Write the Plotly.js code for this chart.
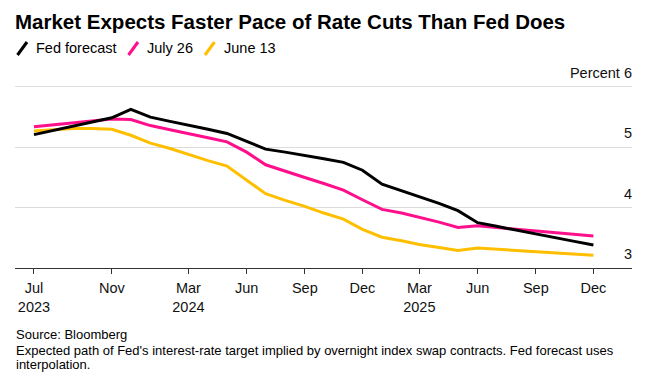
<!DOCTYPE html>
<html>
<head>
<meta charset="utf-8">
<script src="https://cdn.plot.ly/plotly-3.0.1.min.js"></script>
<style>
html,body{margin:0;padding:0;background:#fff;}
#chart{width:652px;height:378px;}
</style>
</head>
<body>
<div id="chart"></div>
<script>
// Monthly points (1st of month), Jul 2023 – Dec 2025
const months = [
  '2023-07-01','2023-08-01','2023-09-01','2023-10-01','2023-11-01','2023-12-01',
  '2024-01-01','2024-02-01','2024-03-01','2024-04-01','2024-05-01','2024-06-01',
  '2024-07-01','2024-08-01','2024-09-01','2024-10-01','2024-11-01','2024-12-01',
  '2025-01-01','2025-02-01','2025-03-01','2025-04-01','2025-05-01','2025-06-01',
  '2025-07-01','2025-08-01','2025-09-01','2025-10-01','2025-11-01','2025-12-01'
];
const fedForecast = [5.21,5.28,5.35,5.42,5.49,5.63,5.50,5.43,5.37,5.30,5.23,5.10,
  4.97,4.92,4.87,4.81,4.75,4.62,4.39,4.28,4.18,4.07,3.95,3.75,
  3.69,3.63,3.57,3.50,3.44,3.38];
const july26 = [5.34,5.37,5.40,5.44,5.47,5.46,5.36,5.29,5.23,5.16,5.09,4.92,
  4.71,4.61,4.50,4.40,4.29,4.13,3.97,3.91,3.84,3.76,3.67,3.70,
  3.67,3.64,3.61,3.58,3.56,3.53];
const june13 = [5.27,5.29,5.31,5.31,5.30,5.20,5.07,4.98,4.88,4.78,4.69,4.46,
  4.23,4.12,4.02,3.91,3.81,3.64,3.51,3.45,3.39,3.34,3.29,3.33,
  3.31,3.29,3.27,3.25,3.23,3.21];

const seriesNames = ['Fed forecast','July 26','June 13'];
const seriesColors = ['#000000','#ff0f8c','#ffbf00'];

const xTickVals = ['2023-07-01','2023-11-01','2024-03-01','2024-06-01','2024-09-01',
  '2024-12-01','2025-03-01','2025-06-01','2025-09-01','2025-12-01'];
const xTickText = ['Jul<br>2023','Nov','Mar<br>2024','Jun','Sep','Dec','Mar<br>2025','Jun','Sep','Dec'];
const yTickVals = [3,4,5,6];
const yTickText = ['3','4','5','Percent 6'];

const FONT = 'Liberation Sans, Arial, Helvetica, sans-serif';

const seriesData = [fedForecast, july26, june13];
const order = [2,1,0];
const traces = order.map(i => ({
  type:'scatter', mode:'lines', x: months, y: seriesData[i], name: seriesNames[i],
  line:{color: seriesColors[i], width:3}, hoverinfo:'skip', showlegend:false
}));

const L = 15, R = 20, T = 85, B = 110, W = 652, H = 378;
const pw = W - L - R, ph = H - T - B;
const px = x => (x - L) / pw;
const py = y => (H - B - y) / ph;

const legendX = [17.5, 128.5, 205];
const legendTextX = [34, 145, 221.5];
const shapes = legendX.map((x0,i) => ({
  type:'line', xref:'paper', yref:'paper',
  x0: px(x0), y0: py(55), x1: px(x0+9.5), y1: py(42),
  line:{color: seriesColors[i], width:3}
}));

const annotations = seriesNames.map((n,i) => ({
  xref:'paper', yref:'paper', x: px(legendTextX[i]), y: py(48.5),
  xanchor:'left', yanchor:'middle', showarrow:false, text:n,
  font:{family:FONT, size:14.5, color:'#000'}
}));
const footer = [
  ['Source: Bloomberg', 334.5],
  ["Expected path of Fed's interest-rate target implied by overnight index swap contracts. Fed forecast uses", 350],
  ['interpolation.', 364.5]
];
footer.forEach(([t,y]) => annotations.push({
  xref:'paper', yref:'paper', x: px(14), y: py(y), xanchor:'left', yanchor:'middle',
  showarrow:false, text:t, font:{family:FONT, size:13, color:'#000'}
}));

const layout = {
  width:W, height:H,
  margin:{l:L, r:R, t:T, b:B},
  paper_bgcolor:'#fff', plot_bgcolor:'#fff',
  title:{text:'<b>Market Expects Faster Pace of Rate Cuts Than Fed Does</b>',
    xref:'container', yref:'container', x:15/W, xanchor:'left', y:1-22/H, yanchor:'middle',
    font:{family:FONT, size:20.5, color:'#000'}},
  showlegend:false,
  xaxis:{type:'date', range:['2023-06-01','2026-01-31'], tickvals:xTickVals, ticktext:xTickText,
    showgrid:false, zeroline:false, showline:true, linecolor:'#333', linewidth:1,
    ticks:'outside', ticklen:5, tickcolor:'#333', tickwidth:1, ticklabelstandoff:2,
    tickfont:{family:FONT, size:14.5, color:'#111'}, fixedrange:true},
  yaxis:{range:[2.999,6.033], tickvals:yTickVals, ticktext:yTickText, side:'right',
    ticklabelposition:'inside', ticklabeloverflow:'allow', ticks:'', showline:false, zeroline:false,
    showgrid:true, gridcolor:'#dcdcdc', gridwidth:1, ticklabelshift:-14, ticklabelstandoff:-3,
    tickfont:{family:FONT, size:14.5, color:'#111'}, fixedrange:true},
  shapes:shapes,
  annotations:annotations
};

Plotly.newPlot('chart', traces, layout, {staticPlot:true, displayModeBar:false});
</script>
</body>
</html>
